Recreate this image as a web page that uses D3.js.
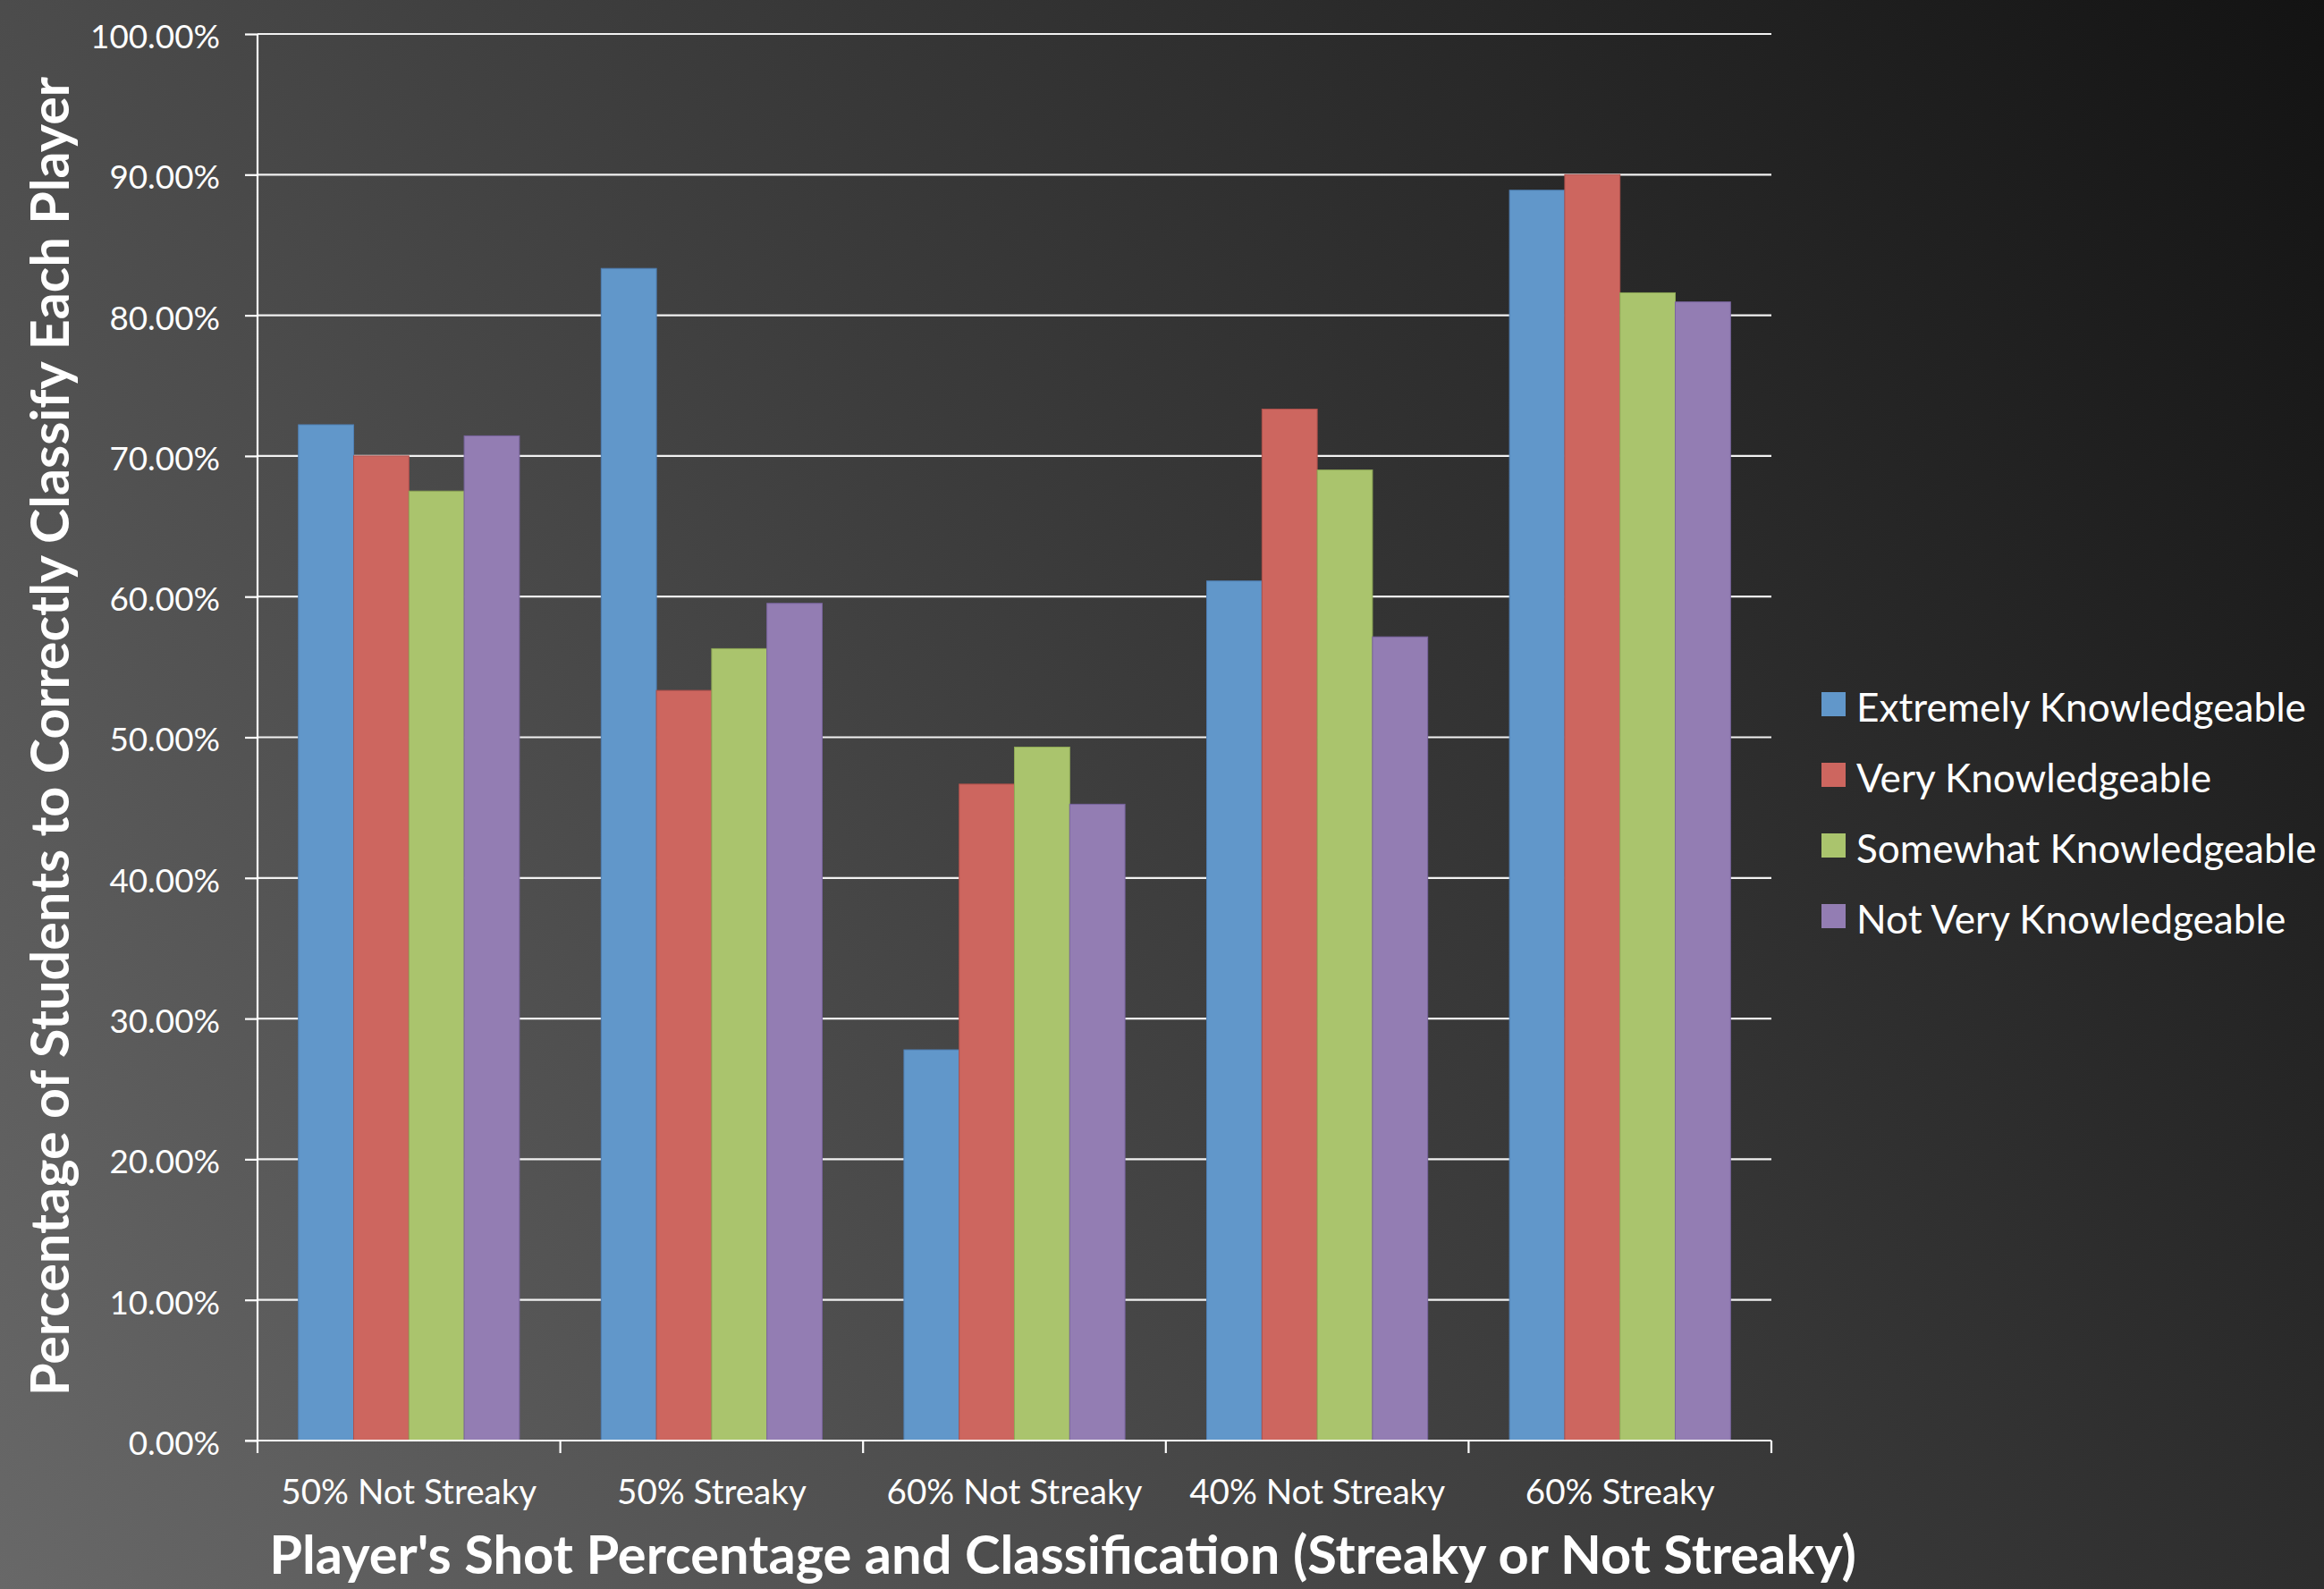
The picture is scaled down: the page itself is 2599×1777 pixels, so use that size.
<!DOCTYPE html>
<html>
<head>
<meta charset="utf-8">
<script src="https://cdn.jsdelivr.net/npm/d3@7"></script>
<style>
  html, body { margin: 0; padding: 0; background: #333; }
  svg { display: block; }
  text { font-family: Lato, "Open Sans", sans-serif; fill: #ffffff; }
</style>
</head>
<body>
<svg id="chart" width="2599" height="1777"></svg>
<script>
// ---- data ----
const categories = ["50% Not Streaky", "50% Streaky", "60% Not Streaky", "40% Not Streaky", "60% Streaky"];
const seriesNames = ["Extremely Knowledgeable", "Very Knowledgeable", "Somewhat Knowledgeable", "Not Very Knowledgeable"];
const extremely = [72.22, 83.33, 27.78, 61.11, 88.89];
const very      = [70.00, 53.33, 46.67, 73.33, 90.00];
const somewhat  = [67.50, 56.30, 49.30, 69.00, 81.60];
const notVery   = [71.43, 59.52, 45.24, 57.14, 80.95];
const yTicks = [0, 10, 20, 30, 40, 50, 60, 70, 80, 90, 100];
const xTitle = "Player's Shot Percentage and Classification (Streaky or Not Streaky)";
const yTitle = "Percentage of Students to Correctly Classify Each Player";

const seriesValues = [extremely, very, somewhat, notVery];
const colors = ["#6197CA", "#CD665F", "#AAC46D", "#937DB3"];
const strokes = ["#4F7FB4", "#B0504B", "#8FA956", "#7A65A0"];

// ---- layout ----
const W = 2599, H = 1777;
const plot = { left: 288, right: 1981, top: 38, bottom: 1611 };

const svg = d3.select("#chart");
const defs = svg.append("defs");
const grad = defs.append("linearGradient").attr("id", "bg")
  .attr("gradientUnits", "userSpaceOnUse")
  .attr("x1", 0).attr("y1", H).attr("x2", W).attr("y2", 0);
grad.append("stop").attr("offset", "0%").attr("stop-color", "#686868");
grad.append("stop").attr("offset", "50%").attr("stop-color", "#3c3c3c");
grad.append("stop").attr("offset", "100%").attr("stop-color", "#131313");
svg.append("rect").attr("width", W).attr("height", H).attr("fill", "url(#bg)");

const x0 = d3.scaleBand().domain(categories).range([plot.left, plot.right]).paddingInner(0).paddingOuter(0);
const x1 = d3.scaleBand().domain(seriesNames).range([0, x0.bandwidth()]).paddingInner(0).paddingOuter(0.74);
const y = d3.scaleLinear().domain([0, 100]).range([plot.bottom, plot.top]);

// helper: fit font size so that reference string has target width
function fitSize(sample, target, weight) {
  const t = svg.append("text").attr("font-size", 100).attr("font-weight", weight || "normal").text(sample);
  const w = t.node().getComputedTextLength();
  t.remove();
  return 100 * target / w;
}

// gridlines
svg.append("g").selectAll("line").data(yTicks.filter(d => d > 0)).join("line")
  .attr("x1", plot.left).attr("x2", plot.right)
  .attr("y1", d => y(d)).attr("y2", d => y(d))
  .attr("stroke", "#f2f2f2").attr("stroke-width", 2.2);

// bars
const groups = svg.append("g").selectAll("g").data(categories).join("g")
  .attr("transform", d => `translate(${x0(d)},0)`);
groups.selectAll("rect")
  .data((c, ci) => seriesNames.map((s, si) => ({ s, si, v: seriesValues[si][ci] })))
  .join("rect")
  .attr("x", d => x1(d.s))
  .attr("width", x1.bandwidth())
  .attr("y", d => y(d.v))
  .attr("height", d => y(0) - y(d.v))
  .attr("fill", d => colors[d.si])
  .attr("stroke", d => strokes[d.si])
  .attr("stroke-width", 1);

// y axis
const yTickSize = fitSize("100.00%", 145);
const yAxis = d3.axisLeft(y).tickValues(yTicks).tickSize(14).tickPadding(28)
  .tickFormat(d => d3.format(".2f")(d) + "%");
const gy = svg.append("g").attr("transform", `translate(${plot.left},0)`).call(yAxis);
gy.select(".domain").attr("stroke", "#ffffff").attr("stroke-width", 2.2).attr("d", `M0,${plot.top}V${plot.bottom}`);
gy.selectAll(".tick line").attr("stroke", "#ffffff").attr("stroke-width", 2.2);
gy.selectAll(".tick text").attr("fill", "#ffffff").attr("font-size", yTickSize)
  .attr("font-family", "Lato, sans-serif").attr("dy", "0.42em");

// x axis
const xTickSize = fitSize("50% Not Streaky", 286);
const xAxis = d3.axisBottom(x0).tickSize(0).tickPadding(0);
const gx = svg.append("g").attr("transform", `translate(0,${plot.bottom})`).call(xAxis);
gx.select(".domain").attr("stroke", "#ffffff").attr("stroke-width", 2.2).attr("d", `M${plot.left - 14},0H${plot.right}`);
gx.selectAll(".tick text").attr("fill", "#ffffff").attr("font-size", xTickSize)
  .attr("font-family", "Lato, sans-serif").attr("y", 71).attr("dy", 0);
// category boundary ticks
const boundaries = categories.map(c => x0(c)).concat([plot.right]);
gx.append("g").selectAll("line").data(boundaries).join("line")
  .attr("x1", d => d).attr("x2", d => d).attr("y1", 0).attr("y2", 14)
  .attr("stroke", "#ffffff").attr("stroke-width", 2.2);

// axis titles
const xTitleSize = fitSize(xTitle, 1775, "bold");
svg.append("text").attr("x", (297 + 2080) / 2).attr("y", 1760)
  .attr("text-anchor", "middle").attr("font-weight", "bold").attr("font-size", xTitleSize).text(xTitle);

const yTitleSize = fitSize(yTitle, 1475, "bold");
svg.append("text").attr("transform", `translate(77,${(86 + 1561) / 2}) rotate(-90)`)
  .attr("text-anchor", "middle").attr("font-weight", "bold").attr("font-size", yTitleSize).text(yTitle);

// legend
const legSize = fitSize("Extremely Knowledgeable", 503);
const legend = svg.append("g").attr("transform", "translate(2037,774)");
const li = legend.selectAll("g").data(seriesNames).join("g")
  .attr("transform", (d, i) => `translate(0,${i * 79})`);
li.append("rect").attr("width", 27).attr("height", 27).attr("fill", (d, i) => colors[i]);
li.append("text").attr("x", 39).attr("y", 33).attr("font-size", legSize).text(d => d);
</script>
</body>
</html>
